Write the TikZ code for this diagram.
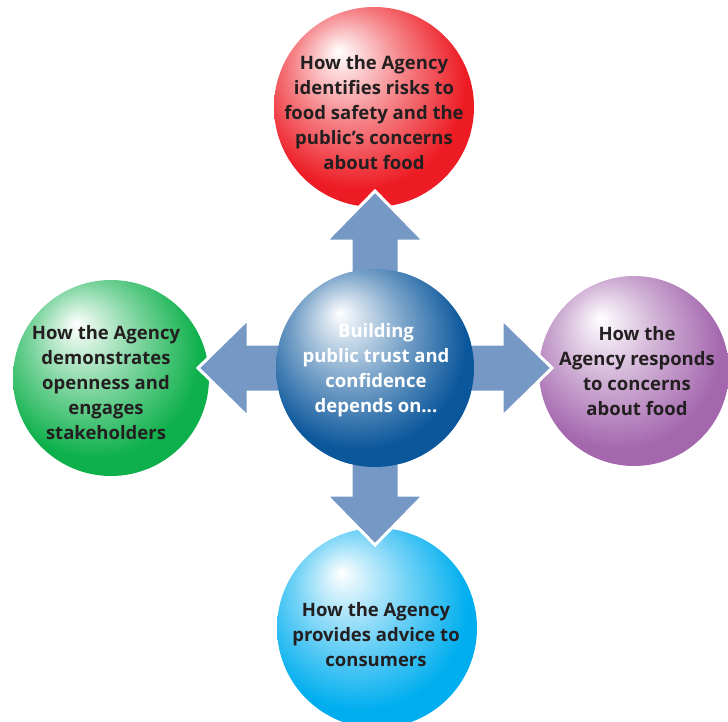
\documentclass[tikz,border=0pt]{standalone}
\usepackage{fontspec}
\setmainfont{Open Sans}
\usepackage{tikz}
\usepackage{xcolor}

\definecolor{riskred}{HTML}{ED1C24}
\definecolor{opengreen}{HTML}{0DB04B}
\definecolor{replypurple}{HTML}{A467AE}
\definecolor{advicecyan}{HTML}{00AEEF}
\definecolor{hubblue}{HTML}{0B579C}
\definecolor{arrowblue}{HTML}{7598C5}
\definecolor{inkdark}{HTML}{231F20}
\colorlet{ballc}{black}

\pgfdeclareradialshading[ballc]{glossy}{\pgfpoint{-9bp}{14bp}}{%
  color(0bp)=(white); color(3bp)=(ballc!12!white); color(14bp)=(ballc!55!white);
  color(27bp)=(ballc); color(50bp)=(ballc)}

\begin{document}
\begin{tikzpicture}[x=1pt,y=-1pt,
    ballcol/.code={\colorlet{ballc}{#1}},
    ball/.style={circle,inner sep=0pt,minimum size=#1,shading=glossy},
    words/.style={align=center,inner sep=0pt,text=inkdark,
      font=\bfseries\fontsize{18.5}{25}\selectfont},
    blockarrow/.style={fill=arrowblue,draw=white,line width=3pt,line join=miter}]
    \useasboundingbox (0,0) rectangle (728,722);
    % outer circles
    \node[ball=200pt,ballcol=riskred] (risk) at (374,107) {};
    \node[ball=190pt,ballcol=replypurple] (reply) at (634,371) {};
    \node[ball=200pt,ballcol=advicecyan] (advice) at (377,628) {};
    \node[ball=196pt,ballcol=opengreen] (open) at (111,378) {};
    % hub and arrows
    \node[ball=198pt,ballcol=hubblue] (hub) at (375,368) {};
    \foreach \ang in {0,90,180,270}{
      \begin{scope}[shift={(hub.center)},rotate=\ang]
        \draw[blockarrow] (0,-24)--(127,-24)--(127,-49)--(177,0)--(127,49)--(127,24)--(0,24)--cycle;
      \end{scope}
    }
    \node[ball=198pt,ballcol=hubblue] (hubtop) at (hub.center) {};
    % texts
    \node[words,text=white] (hubt) at (376,370)
      {Building\\public trust and\\confidence\\depends on...};
    \node[words] (riskt) at (374,113)
      {How the Agency\\identifies risks to\\food safety and the\\public's concerns\\about food};
    \node[words] (replyt) at (637,371)
      {How the\\Agency responds\\to concerns\\about food};
    \node[words] (advicet) at (376,635)
      {How the Agency\\provides advice to\\consumers};
    \node[words] (opent) at (106,383)
      {How the Agency\\demonstrates\\openness and\\engages\\stakeholders};
  \end{tikzpicture}
\end{document}
